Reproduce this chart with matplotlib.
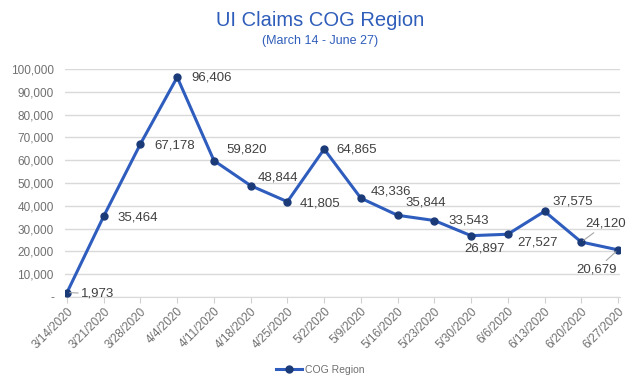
import matplotlib.pyplot as plt
from matplotlib.ticker import FuncFormatter

weeks = ['3/14/2020', '3/21/2020', '3/28/2020', '4/4/2020', '4/11/2020', '4/18/2020',
         '4/25/2020', '5/2/2020', '5/9/2020', '5/16/2020', '5/23/2020', '5/30/2020',
         '6/6/2020', '6/13/2020', '6/20/2020', '6/27/2020']
claims = [1973, 35464, 67178, 96406, 59820, 48844, 41805, 64865, 43336, 35844,
          33543, 26897, 27527, 37575, 24120, 20679]

# label offsets in points (dx, dy)
offsets = [(10, -1), (10, -1), (10, -1), (10, 0), (9, 8), (5, 6), (9, -1), (9, 0),
           (7, 5), (6, 9), (10, 0), (-5, -9), (7, -6), (6, 7), (3, 13), (-30, -14)]
leaders = {0, 14, 15}

line_c = '#2E5DBE'
mark_c = '#1B3A78'
txt_c = '#404040'
tick_c = '#707070'

plt.rcParams['font.family'] = ['Liberation Sans', 'DejaVu Sans']

fig = plt.figure(figsize=(6.4, 3.86), dpi=100)
ax = fig.add_axes([65 / 640, 1 - 297 / 386, 555 / 640, 228 / 386])

x = list(range(len(weeks)))
ax.plot(x, claims, color=line_c, lw=2.2, marker='o', ms=5,
        mfc=mark_c, mec=mark_c, label='COG Region', zorder=3)

for i, v in enumerate(claims):
    dx, dy = offsets[i]
    if i in leaders:
        ax.annotate(f'{v:,}', (i, v), xytext=(dx, dy), textcoords='offset points',
                    fontsize=9.5, color=txt_c, va='center', ha='left',
                    arrowprops=dict(arrowstyle='-', color='#A6A6A6', lw=0.8,
                                    shrinkA=0, shrinkB=2))
    else:
        ax.annotate(f'{v:,}', (i, v), xytext=(dx, dy), textcoords='offset points',
                    fontsize=9.5, color=txt_c, va='center', ha='left')

ax.set_xlim(-0.055, 15.055)
ax.set_ylim(0, 100000)
ax.set_yticks(range(0, 100001, 10000))
ax.yaxis.set_major_formatter(FuncFormatter(lambda v, p: '-' if v == 0 else f'{int(v):,}'))
ax.set_xticks(x)
ax.set_xticklabels(weeks, rotation=45, ha='right', rotation_mode='anchor')
ax.tick_params(axis='y', length=0, labelsize=8.5, colors=tick_c, pad=8)
ax.tick_params(axis='x', length=4, color='#D0D0D0', labelsize=8.5, colors=tick_c, pad=2)
ax.grid(axis='y', color='#D9D9D9', lw=1)
ax.set_axisbelow(True)
for s in ['top', 'right', 'left']:
    ax.spines[s].set_visible(False)
ax.spines['bottom'].set_color('#D9D9D9')

fig.text(0.5, 1 - 20 / 386, 'UI Claims COG Region', ha='center', va='center',
         fontsize=14.5, color='#2F5DBA')
fig.text(0.5, 1 - 41 / 386, '(March 14 - June 27)', ha='center', va='center',
         fontsize=9, color='#2F5DBA')

fig.legend(loc='center', bbox_to_anchor=(0.5, 1 - 370 / 386), frameon=False,
           fontsize=7.5, labelcolor=tick_c, handlelength=2.5, handletextpad=0.3)

fig.savefig('out.png', dpi=100)
